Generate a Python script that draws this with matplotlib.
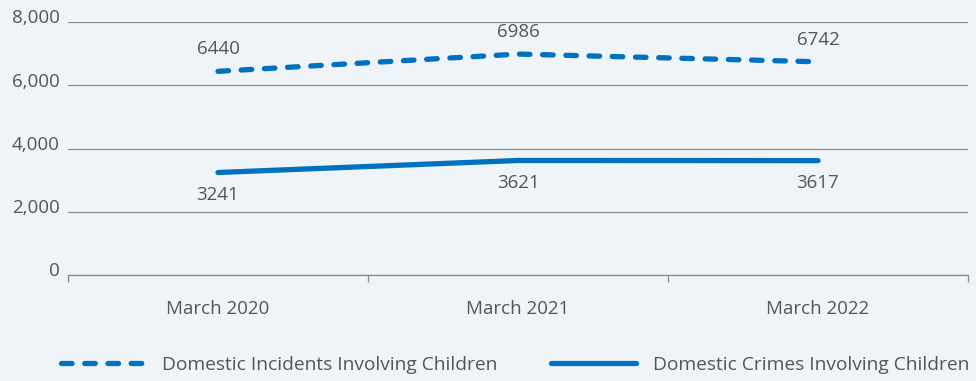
import matplotlib

matplotlib.use("Agg")
import matplotlib.pyplot as plt  # noqa: E402
from matplotlib.transforms import ScaledTranslation  # noqa: E402
from matplotlib.ticker import FuncFormatter  # noqa: E402

periods = ["March 2020", "March 2021", "March 2022"]
incidents = [6440, 6986, 6742]
crimes = [3241, 3621, 3617]
y_ticks = [0, 2000, 4000, 6000, 8000]

BLUE = "#0070c0"
TEXT = "#555555"
GRID = "#8a8a8a"
BG = "#eff4f8"
FS = 13.5

plt.rcParams["font.family"] = ["Open Sans", "DejaVu Sans"]

fig = plt.figure(figsize=(9.76, 3.81), dpi=100, facecolor=BG)
ax = fig.add_axes([68 / 976, 1 - 275 / 381, 900 / 976, 253 / 381], facecolor=BG)

x = list(range(len(periods)))
ax.plot(x, incidents, color=BLUE, lw=3.8, dash_capstyle="round",
        linestyle=(0, (2.0, 2.4)), label="Domestic Incidents Involving Children")
ax.plot(x, crimes, color=BLUE, lw=3.8, solid_capstyle="round",
        label="Domestic Crimes Involving Children")

for xi, v in zip(x, incidents):
    ax.annotate(str(v), (xi, v), xytext=(0, 16), textcoords="offset points",
                ha="center", va="center", fontsize=FS, color=TEXT)
for xi, v in zip(x, crimes):
    ax.annotate(str(v), (xi, v), xytext=(0, -16), textcoords="offset points",
                ha="center", va="center", fontsize=FS, color=TEXT)

ax.set_xlim(-0.5, 2.5)
ax.set_ylim(0, 8000)
ax.set_yticks(y_ticks)
ax.yaxis.set_major_formatter(FuncFormatter(lambda v, _: f"{int(v):,}"))
ax.grid(axis="y", color=GRID, lw=0.9)
ax.set_axisbelow(True)
for name in ("top", "right", "left"):
    ax.spines[name].set_visible(False)
ax.spines["bottom"].set_color(GRID)
ax.spines["bottom"].set_linewidth(0.9)

ax.tick_params(axis="y", length=0, pad=6, labelsize=FS, labelcolor=TEXT)
for lab in ax.get_yticklabels():
    lab.set_transform(lab.get_transform() + ScaledTranslation(0, 4 / 72, fig.dpi_scale_trans))

# category labels sit mid-band, tick marks on the band edges
ax.set_xticks(x)
ax.set_xticklabels(periods)
ax.tick_params(axis="x", which="major", length=0, pad=18, labelsize=FS, labelcolor=TEXT)
ax.set_xticks([-0.5, 0.5, 1.5, 2.5], minor=True)
ax.tick_params(axis="x", which="minor", length=5, color=GRID, width=0.9)

fig.legend(loc="center", bbox_to_anchor=(515 / 976, 1 - 365 / 381), ncol=2,
           frameon=False, fontsize=13.8, labelcolor=TEXT, handlelength=4.4,
           handletextpad=0.9, columnspacing=2.8)

fig.savefig("out.png", dpi=100, facecolor=BG)
